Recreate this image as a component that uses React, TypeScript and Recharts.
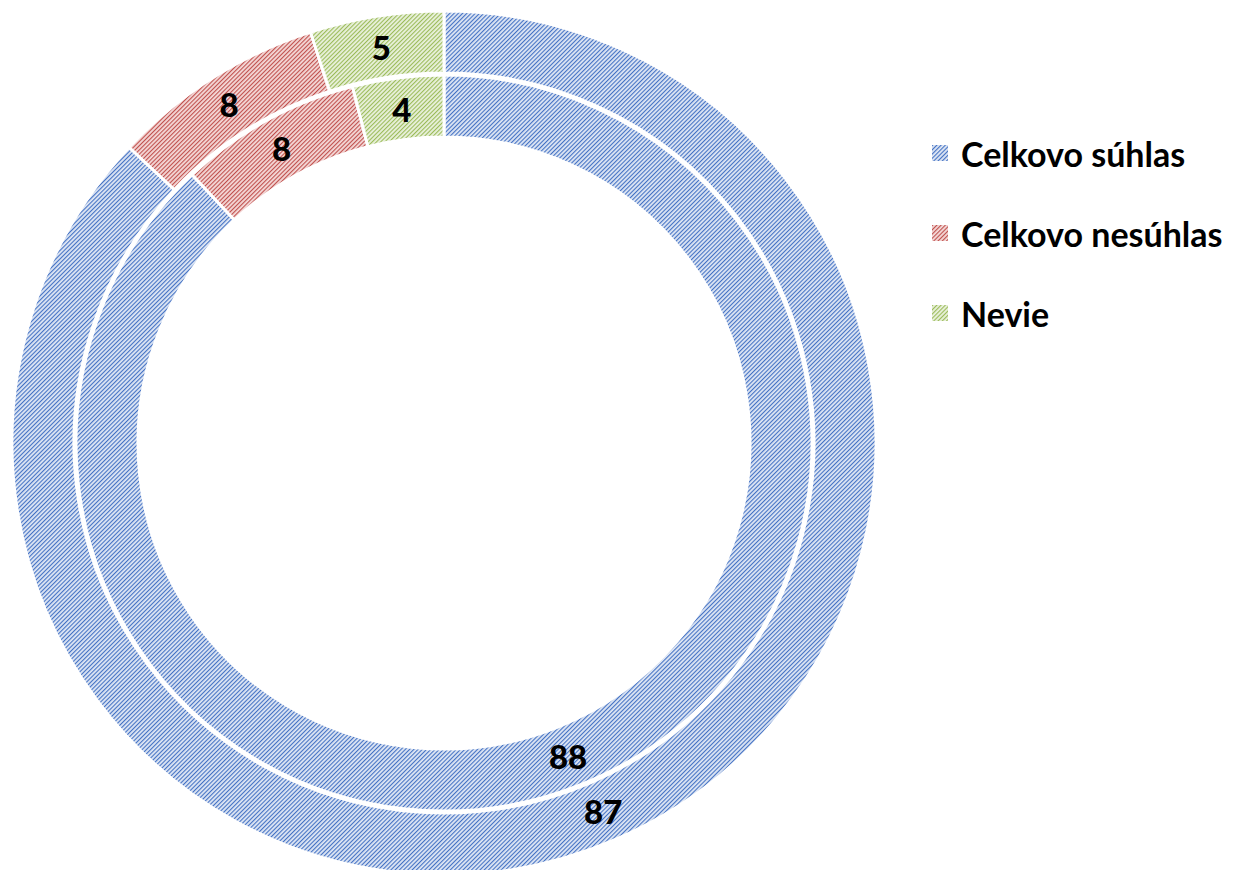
import { PieChart, Pie, Cell, Legend } from 'recharts'

const categories = ['Celkovo súhlas', 'Celkovo nesúhlas', 'Nevie']
const outerValues = [87, 8, 5]
const innerValues = [88, 8, 4]

const COLORS = [
  { id: 'hatch-blue', line: '#4472C4', bg: '#DEE6F4' },
  { id: 'hatch-red', line: '#C0504D', bg: '#F4D8D7' },
  { id: 'hatch-green', line: '#9BBB59', bg: '#E9F1DC' },
]

const FONT = 'Lato, "Open Sans", sans-serif'
const RADIAN = Math.PI / 180

const outerData = categories.map((name, i) => ({ name, value: outerValues[i] }))
const innerData = categories.map((name, i) => ({ name, value: innerValues[i] }))

// label centred in the ring, like the Excel original
const renderLabel = (props: any) => {
  const { cx, cy, midAngle, innerRadius, outerRadius, value } = props
  const r = (innerRadius + outerRadius) / 2
  const x = cx + r * Math.cos(-midAngle * RADIAN)
  const y = cy + r * Math.sin(-midAngle * RADIAN)
  return (
    <text x={x} y={y} textAnchor="middle" dominantBaseline="central"
      fontFamily={FONT} fontWeight={900} fontSize={33} fill="#000">
      {value}
    </text>
  )
}

const LegendContent = () => (
  <div style={{ fontFamily: FONT, fontWeight: 700, fontSize: 34, color: '#000' }}>
    {categories.map((c, i) => (
      <div key={c} style={{ display: 'flex', alignItems: 'center', height: 80 }}>
        <svg width={16} height={16} style={{ marginRight: 13 }}>
          <rect x={0} y={0} width={16} height={16} fill={`url(#${COLORS[i].id})`} />
        </svg>
        <span>{c}</span>
      </div>
    ))}
  </div>
)

export default function App() {
  return (
    <div style={{ position: 'absolute', left: 0, top: 0, background: '#fff' }}>
      <PieChart width={1233} height={870} margin={{ top: 0, right: 0, bottom: 0, left: 0 }}>
        <defs>
          {COLORS.map(c => (
            <pattern key={c.id} id={c.id} patternUnits="userSpaceOnUse" width={3} height={3}
              patternTransform="rotate(45)">
              <rect x={0} y={0} width={3} height={3} fill={c.bg} />
              <rect x={0} y={0} width={1.1} height={3} fill={c.line} />
            </pattern>
          ))}
        </defs>
        <Pie
          data={outerData}
          dataKey="value"
          cx={444}
          cy={443}
          innerRadius={370}
          outerRadius={432}
          startAngle={90}
          endAngle={-270}
          stroke="#fff"
          strokeWidth={3}
          label={renderLabel}
          labelLine={false}
          isAnimationActive={false}
        >
          {outerData.map((d, i) => <Cell key={d.name} fill={`url(#${COLORS[i].id})`} />)}
        </Pie>
        <Pie
          data={innerData}
          dataKey="value"
          cx={444}
          cy={443}
          innerRadius={306}
          outerRadius={368}
          startAngle={90}
          endAngle={-270}
          stroke="#fff"
          strokeWidth={3}
          label={renderLabel}
          labelLine={false}
          isAnimationActive={false}
        >
          {innerData.map((d, i) => <Cell key={d.name} fill={`url(#${COLORS[i].id})`} />)}
        </Pie>
        <Legend
          layout="vertical"
          verticalAlign="top"
          align="right"
          content={<LegendContent />}
          wrapperStyle={{ left: 932, top: 113, width: 300 }}
        />
      </PieChart>
    </div>
  )
}
